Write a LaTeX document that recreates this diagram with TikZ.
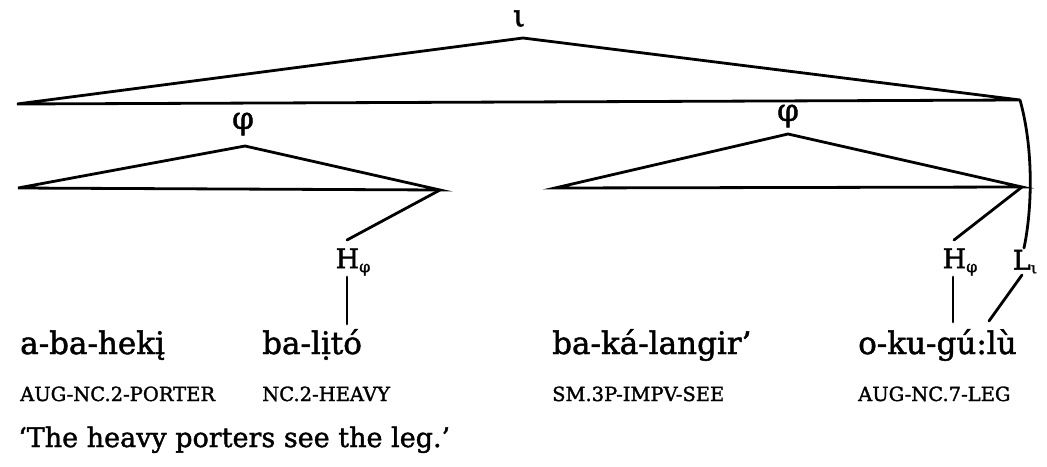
\documentclass[tikz,border=0pt]{standalone}
\usepackage{fontspec}
\setmainfont{DejaVu Serif}[FakeBold=1.5]
\tikzset{
  tree/.style={line width=2.8pt, line join=miter, line cap=round},
  word/.style={anchor=base west, inner sep=0pt, font=\fontsize{31}{34}\selectfont},
  gloss/.style={anchor=base west, inner sep=0pt, font=\fontsize{19.5}{21}\selectfont},
  tone/.style={inner sep=0pt, font=\fontsize{27}{29}\selectfont},
  cat/.style={inner sep=0pt, font=\fontsize{31}{33}\selectfont},
}
\newcommand{\subsym}[1]{{\fontsize{16}{16}\selectfont\raisebox{-4pt}{#1}}}
\begin{document}
\begin{tikzpicture}[x=1pt,y=-1pt]
\useasboundingbox (0,0) rectangle (1047,466);
% intonational phrase
\node[cat] (iota) at (519,19) {ι};
\coordinate (iapex) at (523,38);
\coordinate (ileft) at (17,104);
\coordinate (iright) at (1020,100);
\draw[tree] (ileft) -- (iapex) -- (iright) -- cycle;
% phonological phrases
\node[cat] (phi1) at (243,124) {φ};
\coordinate (p1apex) at (245,146);
\coordinate (p1left) at (18,188);
\coordinate (p1right) at (440,190);
\draw[tree] (p1left) -- (p1apex) -- (p1right) -- cycle;
\node[cat] (phi2) at (788,116) {φ};
\coordinate (p2apex) at (788,134);
\coordinate (p2left) at (555,188);
\coordinate (p2right) at (1022,187);
\draw[tree] (p2left) -- (p2apex) -- (p2right) -- cycle;
% tones
\node[tone] (H1) at (353,262) {H\subsym{φ}};
\node[tone] (H2) at (960,262) {H\subsym{φ}};
\node[tone] (L) at (1025,262) {L\subsym{ι}};
% words
\node[word] (w1) at (20,354) {a-ba-hekį};
\node[word] (w2) at (262,354) {ba-lịtó};
\node[word] (w3) at (552,354) {ba-ká-langir’};
\node[word] (w4) at (858,354) {o-ku-gú:lù};
% glosses
\node[gloss] (g1) at (20,401) {AUG-NC.2-PORTER};
\node[gloss] (g2) at (262,401) {NC.2-HEAVY};
\node[gloss] (g3) at (552,401) {SM.3P-IMPV-SEE};
\node[gloss] (g4) at (858,401) {AUG-NC.7-LEG};
\node[word, font=\fontsize{27}{29}\selectfont] (tr) at (18,447) {‘The heavy porters see the leg.’};
% associations
\coordinate (h1top) at (347,240);
\coordinate (h2top) at (954,240);
\coordinate (h1bot) at (347,277);
\coordinate (w2top) at (347,324);
\coordinate (h2bot) at (953,277);
\coordinate (w4top) at (953,322);
\coordinate (ltop) at (1024,248);
\coordinate (lbot) at (1022,275);
\coordinate (w4lu) at (989,321);
\draw[tree] (p1right) -- (h1top);
\draw[tree] (p2right) -- (h2top);
\draw[tree] (h1bot) -- (w2top);
\draw[tree] (h2bot) -- (w4top);
\draw[tree] (iright) .. controls (1034,150) and (1032,210) .. (ltop);
\draw[tree] (lbot) -- (w4lu);
\end{tikzpicture}
\end{document}
